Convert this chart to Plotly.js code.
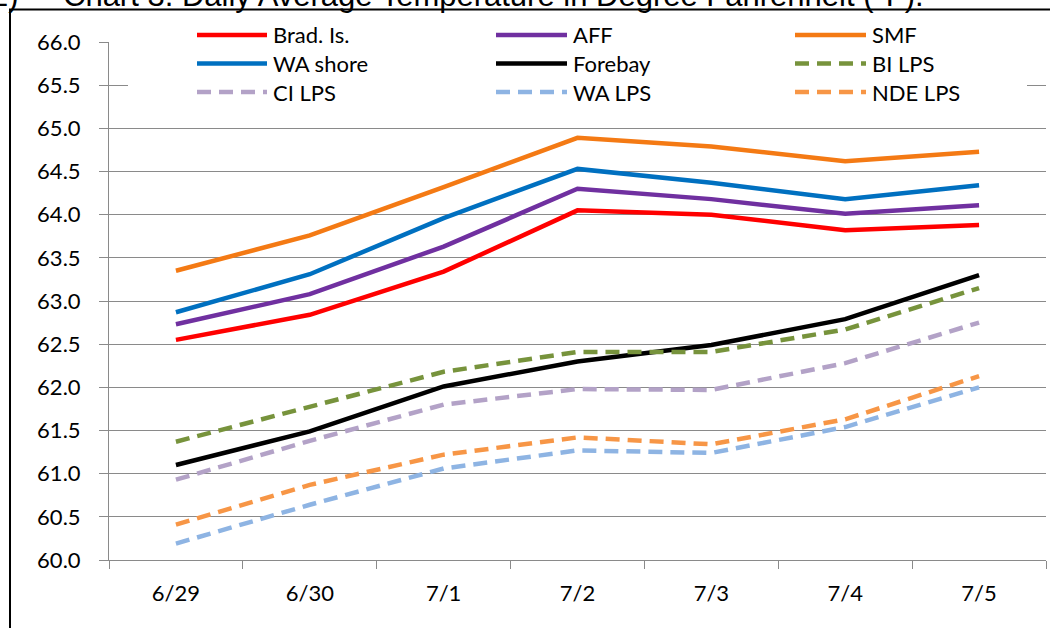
<!DOCTYPE html>
<html><head><meta charset="utf-8">
<script src="https://cdn.plot.ly/plotly-3.0.1.min.js"></script>
<style>html,body{margin:0;padding:0;background:#fff;overflow:hidden;} #chart{width:1050px;height:628px;}</style>
</head><body><div id="chart"></div>
<script>
// ---- data ----
const dates = ['6/29', '6/30', '7/1', '7/2', '7/3', '7/4', '7/5'];
const bradIs  = [62.55, 62.84, 63.34, 64.05, 64.00, 63.82, 63.88];
const aff     = [62.73, 63.08, 63.63, 64.30, 64.18, 64.01, 64.11];
const smf     = [63.35, 63.76, 64.32, 64.89, 64.79, 64.62, 64.73];
const waShore = [62.87, 63.31, 63.96, 64.53, 64.37, 64.18, 64.34];
const forebay = [61.10, 61.49, 62.01, 62.30, 62.49, 62.79, 63.30];
const biLps   = [61.37, 61.78, 62.18, 62.41, 62.41, 62.67, 63.15];
const ciLps   = [60.93, 61.38, 61.80, 61.98, 61.97, 62.28, 62.75];
const waLps   = [60.19, 60.64, 61.06, 61.27, 61.24, 61.54, 62.00];
const ndeLps  = [60.41, 60.87, 61.22, 61.42, 61.34, 61.63, 62.13];
const seriesNames = ['Brad. Is.', 'AFF', 'SMF', 'WA shore', 'Forebay', 'BI LPS', 'CI LPS', 'WA LPS', 'NDE LPS'];
const seriesValues = [bradIs, aff, smf, waShore, forebay, biLps, ciLps, waLps, ndeLps];
const titleNum = '2)';
const titleText = 'Chart 3. Daily Average Temperature in Degree Fahrenheit (°F).';

// ---- styles ----
const DASH = '14px,8px';
const styles = [
  {color: '#FF0000', dash: 'solid'},
  {color: '#7030A0', dash: 'solid'},
  {color: '#F47A14', dash: 'solid'},
  {color: '#0070C0', dash: 'solid'},
  {color: '#000000', dash: 'solid'},
  {color: '#77933C', dash: DASH},
  {color: '#B3A2C7', dash: DASH},
  {color: '#8EB4E3', dash: DASH},
  {color: '#F79646', dash: DASH}
];
const LW = 4.5;
const FONT = 'Lato, "Open Sans", sans-serif';
const GRID = '#8a8a8a';

// ---- geometry helpers (pixel -> paper) ----
const W = 1050, H = 628, ML = 109, MR = 4, MT = 42, MB = 68;
const PW = W - ML - MR, PH = H - MT - MB;
const px = X => (X - ML) / PW;
const py = Y => (H - MB - Y) / PH;

const traces = seriesNames.map((name, i) => ({
  type: 'scatter', mode: 'lines', name: name,
  x: dates, y: seriesValues[i],
  line: {color: styles[i].color, width: LW, dash: styles[i].dash},
  showlegend: false, hoverinfo: 'x+y+name'
}));

// custom legend (3 columns x 3 rows)
const legLineX = [[197, 267], [496, 567], [795, 866]];
const legTextX = [271, 571, 870];
const legRowY = [35, 63.5, 92];
const shapes = [
  {type: 'rect', xref: 'paper', yref: 'paper', x0: px(128), x1: px(1027), y0: py(110), y1: py(20),
   fillcolor: '#ffffff', line: {width: 0}, layer: 'above'},
  {type: 'rect', xref: 'paper', yref: 'paper', x0: px(10), x1: px(1070), y0: py(660), y1: py(9.5),
   fillcolor: 'rgba(0,0,0,0)', line: {color: '#000000', width: 2}, layer: 'above'}
];
const annotations = [];
seriesNames.forEach((name, i) => {
  const col = i % 3, row = Math.floor(i / 3);
  shapes.push({type: 'line', xref: 'paper', yref: 'paper',
    x0: px(legLineX[col][0]), x1: px(legLineX[col][1]), y0: py(legRowY[row]), y1: py(legRowY[row]),
    line: {color: styles[i].color, width: LW, dash: styles[i].dash}, layer: 'above'});
  annotations.push({xref: 'paper', yref: 'paper', x: px(legTextX[col]), y: py(legRowY[row]),
    xanchor: 'left', yanchor: 'middle', showarrow: false, text: name,
    font: {family: FONT, size: 22, color: '#000000'}});
});
annotations.push({xref: 'paper', yref: 'paper', x: px(21), y: py(-4), xanchor: 'right', yanchor: 'middle',
  showarrow: false, text: titleNum, font: {family: '"Liberation Sans", Arial, sans-serif', size: 31, color: '#000'}});
annotations.push({xref: 'paper', yref: 'paper', x: px(61), y: py(-4), xanchor: 'left', yanchor: 'middle',
  showarrow: false, text: titleText, font: {family: '"Liberation Sans", Arial, sans-serif', size: 31, color: '#000'}});

const layout = {
  width: W, height: H,
  margin: {l: ML, r: MR, t: MT, b: MB, pad: 0},
  paper_bgcolor: '#ffffff', plot_bgcolor: '#ffffff',
  showlegend: false,
  xaxis: {
    type: 'category', range: [-0.5, 6.5], showgrid: false,
    showline: true, linecolor: GRID, linewidth: 1,
    ticks: 'outside', tickson: 'boundaries', ticklen: 8, tickcolor: GRID, tickwidth: 1,
    tickfont: {family: FONT, size: 22, color: '#000'}, ticklabelstandoff: 14,
    fixedrange: true
  },
  yaxis: {
    range: [60, 66], tick0: 60, dtick: 0.5, tickformat: '.1f',
    showgrid: true, gridcolor: GRID, gridwidth: 1, zeroline: false,
    showline: true, linecolor: GRID, linewidth: 1,
    ticks: 'outside', ticklen: 9, tickcolor: GRID, tickwidth: 1,
    tickfont: {family: FONT, size: 22, color: '#000'}, ticklabelstandoff: 14,
    fixedrange: true
  },
  shapes: shapes,
  annotations: annotations
};

Plotly.newPlot('chart', traces, layout, {displayModeBar: false, staticPlot: true});
</script>
</body></html>
